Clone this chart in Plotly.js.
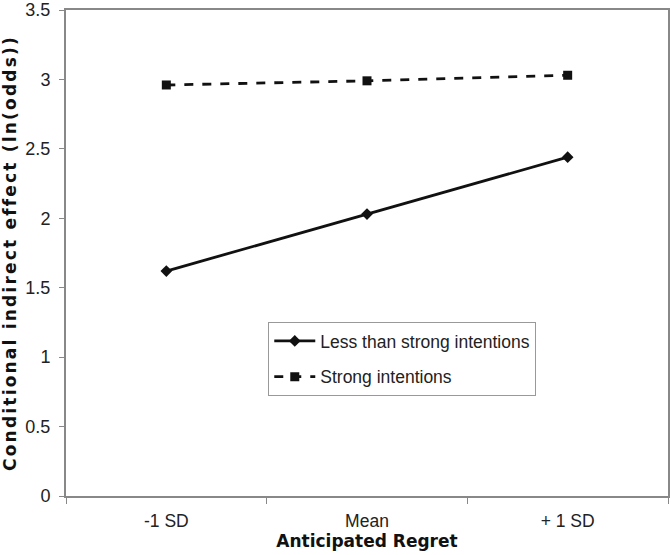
<!DOCTYPE html>
<html>
<head>
<meta charset="utf-8">
<script src="https://cdn.plot.ly/plotly-3.0.1.min.js"></script>
<style>
html,body{margin:0;padding:0;background:#fff;}
#chart{width:671px;height:555px;}
#chart .ytitle{letter-spacing:2.2px;}
</style>
</head>
<body>
<div id="chart"></div>
<script>
const categories = ["-1 SD", "Mean", "+ 1 SD"];
const lessThanStrong = [1.62, 2.03, 2.44];
const strongIntentions = [2.96, 2.99, 3.03];
const yTicks = [0, 0.5, 1, 1.5, 2, 2.5, 3, 3.5];

const traces = [
  {
    x: categories, y: lessThanStrong, name: "Less than strong intentions",
    type: "scatter", mode: "lines+markers", legendgroup: "a",
    line: {color: "#111", width: 2.8, dash: "solid"},
    marker: {symbol: "diamond", size: 9, color: "#111"}
  },
  {
    x: categories, y: strongIntentions, name: "Strong intentions",
    type: "scatter", mode: "lines+markers", legendgroup: "b",
    line: {color: "#111", width: 2.8, dash: "dash"},
    marker: {symbol: "square", size: 9, color: "#111"}
  }
];

const layout = {
  width: 671, height: 555,
  margin: {l: 66, r: 3, t: 10, b: 59},
  paper_bgcolor: "#fff", plot_bgcolor: "#fff",
  font: {family: "Liberation Sans, Arial, sans-serif", size: 17.5, color: "#222"},
  showlegend: true,
  legend: {
    x: 0.336, y: 0.358, xanchor: "left", yanchor: "top",
    bgcolor: "#fff", bordercolor: "#999", borderwidth: 1,
    font: {family: "Liberation Sans, Arial, sans-serif", size: 17.5, color: "#222"},
    tracegroupgap: 10, itemwidth: 41
  },
  xaxis: {
    type: "category", range: [-0.5, 2.5],
    showline: true, mirror: true, linecolor: "#888", linewidth: 2,
    showgrid: false, zeroline: false,
    ticks: "outside", tickson: "boundaries", ticklen: 6, tickcolor: "#888",
    ticklabelstandoff: 8,
    tickfont: {size: 17.5, color: "#222"},
    title: {text: "Anticipated Regret", font: {family: "DejaVu Sans, Verdana, sans-serif", size: 17, color: "#111", weight: "bold"}, standoff: 5}
  },
  yaxis: {
    range: [0, 3.5], tickvals: yTicks,
    showline: true, mirror: true, linecolor: "#888", linewidth: 2,
    showgrid: false, zeroline: false,
    ticks: "outside", ticklen: 5, tickcolor: "#888",
    ticklabelstandoff: 5,
    tickfont: {size: 18, color: "#222"},
    title: {text: "Conditional indirect effect (ln(odds))", font: {family: "DejaVu Sans, Verdana, sans-serif", size: 17, color: "#111", weight: "bold"}, standoff: 8}
  }
};

Plotly.newPlot("chart", traces, layout, {displayModeBar: false, staticPlot: true});
</script>
</body>
</html>
